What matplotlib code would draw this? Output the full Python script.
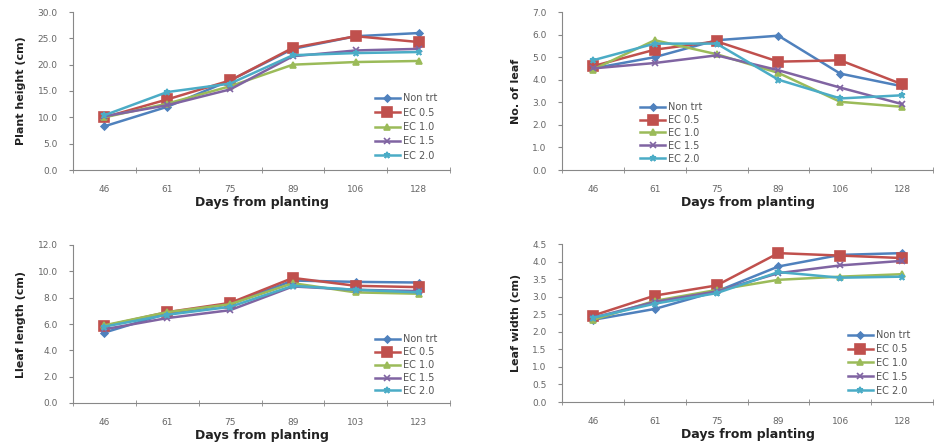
import numpy as np
import matplotlib
matplotlib.use("Agg")
import matplotlib.pyplot as plt

# x categories (days from planting)
days_a = ["46", "61", "75", "89", "106", "128"]
days_b = ["46", "61", "75", "89", "103", "123"]

series_names = ["Non trt", "EC 0.5", "EC 1.0", "EC 1.5", "EC 2.0"]

# plant height (cm)
height_non = [8.3, 12.0, 17.0, 23.0, 25.4, 26.0]
height_05 = [10.0, 13.4, 17.0, 23.2, 25.4, 24.3]
height_10 = [10.0, 12.6, 15.9, 20.0, 20.5, 20.7]
height_15 = [10.2, 12.3, 15.3, 21.6, 22.7, 23.0]
height_20 = [10.4, 14.8, 16.4, 21.8, 22.2, 22.4]

# number of leaves
leaf_non = [4.5, 5.0, 5.75, 5.95, 4.27, 3.71]
leaf_05 = [4.6, 5.33, 5.7, 4.8, 4.86, 3.8]
leaf_10 = [4.45, 5.75, 5.13, 4.3, 3.02, 2.8]
leaf_15 = [4.5, 4.74, 5.08, 4.42, 3.65, 2.92]
leaf_20 = [4.86, 5.6, 5.6, 4.0, 3.17, 3.31]

# leaf length (cm)
length_non = [5.35, 6.8, 7.5, 9.3, 9.2, 9.15]
length_05 = [5.85, 6.9, 7.6, 9.5, 8.9, 8.8]
length_10 = [5.9, 6.9, 7.5, 9.1, 8.4, 8.3]
length_15 = [5.6, 6.45, 7.05, 8.85, 8.6, 8.5]
length_20 = [5.8, 6.7, 7.3, 8.9, 8.6, 8.4]

# leaf width (cm)
width_non = [2.34, 2.65, 3.15, 3.86, 4.19, 4.24]
width_05 = [2.46, 3.03, 3.32, 4.24, 4.17, 4.1]
width_10 = [2.34, 2.88, 3.19, 3.48, 3.57, 3.64]
width_15 = [2.4, 2.85, 3.15, 3.67, 3.89, 4.02]
width_20 = [2.4, 2.8, 3.1, 3.7, 3.54, 3.57]

colors = ["#4F81BD", "#C0504D", "#9BBB59", "#8064A2", "#4BACC6"]
markers = ["D", "s", "^", "x", "*"]
msizes = [3.5, 6.5, 4.5, 5, 5]

W, H = 934, 443
fig = plt.figure(figsize=(W / 100, H / 100), dpi=100)
fig.patch.set_facecolor("white")


def px_axes(x0, y0, x1, y1):
    return fig.add_axes([x0 / W, 1 - y1 / H, (x1 - x0) / W, (y1 - y0) / H])


def panel(ax, labels, data, ymax, ystep, ylabel, leg_anchor, spacing):
    x = np.arange(len(labels))
    for i, vals in enumerate(data):
        ax.plot(x, vals, color=colors[i], marker=markers[i], ms=msizes[i],
                lw=1.8, mew=1.2, label=series_names[i])
    ax.set_xlim(-0.5, len(labels) - 0.5)
    ax.set_ylim(0, ymax)
    ax.set_yticks(np.arange(0, ymax + ystep / 2, ystep))
    ax.yaxis.set_major_formatter(matplotlib.ticker.FormatStrFormatter("%.1f"))
    ax.set_xticks(x)
    ax.set_xticklabels(labels)
    ax.set_xticks(np.arange(-0.5, len(labels)), minor=True)
    ax.tick_params(axis="x", which="major", length=0, pad=11,
                   labelsize=6.5, labelcolor="#666666")
    ax.tick_params(axis="x", which="minor", length=4, direction="inout",
                   color="#888888")
    ax.tick_params(axis="y", length=3, color="#888888", labelsize=6.5,
                   labelcolor="#666666", pad=8)
    for s in ["top", "right"]:
        ax.spines[s].set_visible(False)
    for s in ["left", "bottom"]:
        ax.spines[s].set_color("#888888")
        ax.spines[s].set_linewidth(0.8)
    ax.set_xlabel("Days from planting", fontsize=9, fontweight="bold",
                  color="#222222", labelpad=1)
    ax.set_ylabel(ylabel, fontsize=8, fontweight="bold", color="#222222",
                  labelpad=8)
    leg = ax.legend(loc="upper left", bbox_to_anchor=leg_anchor, frameon=False,
                    fontsize=7, handlelength=2.6, labelspacing=spacing,
                    handletextpad=0.3, borderaxespad=0)
    for t in leg.get_texts():
        t.set_color("#555555")


ax1 = px_axes(73, 12, 450, 170)
panel(ax1, days_a, [height_non, height_05, height_10, height_15, height_20],
      30, 5, "Plant height (cm)", (0.79, 0.51), 0.45)

ax2 = px_axes(562, 12, 933, 170)
panel(ax2, days_a, [leaf_non, leaf_05, leaf_10, leaf_15, leaf_20],
      7, 1, "No. of leaf", (0.2, 0.455), 0.3)

ax3 = px_axes(73, 245, 450, 403)
panel(ax3, days_b, [length_non, length_05, length_10, length_15, length_20],
      12, 2, "Lleaf length (cm)", (0.79, 0.46), 0.3)

ax4 = px_axes(562, 244, 933, 402)
panel(ax4, days_a, [width_non, width_05, width_10, width_15, width_20],
      4.5, 0.5, "Leaf width (cm)", (0.76, 0.48), 0.4)

fig.savefig("out.png", dpi=100)
